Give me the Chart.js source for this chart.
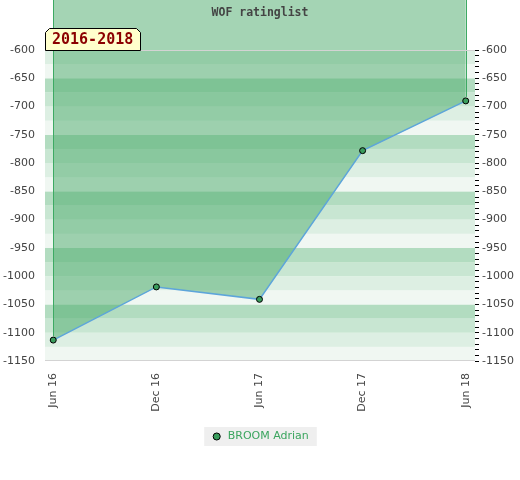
<!DOCTYPE html>
<html>
<head>
<meta charset="utf-8">
<script src="https://cdn.jsdelivr.net/npm/chart.js@4/dist/chart.umd.min.js"></script>
<style>
    body {margin: 0; background: #fff;}
    #chart-area {display: block;}
</style>
</head>
<body>
<canvas id="chart-area" width="520" height="480"></canvas>
<script>
var periodLabels = ['Jun 16', 'Dec 16', 'Jun 17', 'Dec 17', 'Jun 18'];
var ratings = [-1113, -1019, -1041, -778, -690];
var playerName = 'BROOM Adrian';
var chartTitle = 'WOF ratinglist';
var rangeLabel = '2016-2018';
var yMin = -1150;
var yMax = -600;

var stripeColors = ['#b2dcc0', '#c8e6d2', '#ddefe3', '#f0f7f2'];
var fillColor = 'rgba(73, 169, 105, 0.5)';

var backgroundPlugin = {
    id: 'stripes',
    beforeDraw: function (chart) {
        var ctx = chart.ctx;
        var legend = chart.legend;
        if (legend && legend.legendHitBoxes && legend.legendHitBoxes.length) {
            var box = legend.legendHitBoxes[0];
            ctx.save();
            ctx.fillStyle = '#efefef';
            ctx.fillRect(box.left - 7, box.top - 4, box.width + 15, box.height + 8);
            ctx.restore();
        }
    },
    beforeDatasetsDraw: function (chart) {
        var ctx = chart.ctx;
        var area = chart.chartArea;
        var y = chart.scales.y;
        ctx.save();
        for (var v = yMin; v < yMax; v += 25) {
            var idx = ((v - yMin) / 25) % 4;
            var top = y.getPixelForValue(v + 25);
            var bottom = y.getPixelForValue(v);
            ctx.fillStyle = stripeColors[3 - idx];
            ctx.fillRect(area.left, top, area.right - area.left, bottom - top);
        }
        ctx.restore();
    },
    afterDatasetsDraw: function (chart) {
        var ctx = chart.ctx;
        var area = chart.chartArea;
        var meta = chart.getDatasetMeta(0);
        var first = meta.data[0];
        var last = meta.data[meta.data.length - 1];
        ctx.save();
        // fill band above the plot
        ctx.fillStyle = fillColor;
        ctx.fillRect(first.x, 0, last.x - first.x, area.top);
        // side edges of the filled region
        ctx.strokeStyle = '#3daa63';
        ctx.lineWidth = 1;
        ctx.beginPath();
        ctx.moveTo(Math.round(first.x) + 0.5, 0);
        ctx.lineTo(Math.round(first.x) + 0.5, first.y - 4);
        ctx.moveTo(Math.round(last.x) + 0.5, 0);
        ctx.lineTo(Math.round(last.x) + 0.5, last.y - 4);
        ctx.stroke();
        // top and bottom borders
        ctx.strokeStyle = '#d3d3d3';
        ctx.beginPath();
        ctx.moveTo(area.left, Math.round(area.top) + 0.5);
        ctx.lineTo(area.right, Math.round(area.top) + 0.5);
        ctx.moveTo(area.left, Math.round(area.bottom) - 0.5);
        ctx.lineTo(area.right, Math.round(area.bottom) - 0.5);
        ctx.stroke();
        ctx.restore();
    },
    afterDraw: function (chart) {
        var ctx = chart.ctx;
        var area = chart.chartArea;
        ctx.save();
        ctx.fillStyle = '#444';
        ctx.font = 'bold 11.5px "DejaVu Sans Mono"';
        ctx.textAlign = 'center';
        ctx.textBaseline = 'middle';
        ctx.fillText(chartTitle, (area.left + area.right) / 2, 13);
        // period tag
        var x0 = area.left, x1 = area.left + 95, y0 = 28, y1 = area.top, c = 4;
        ctx.beginPath();
        ctx.moveTo(x0 + 0.5, y1 + 0.5);
        ctx.lineTo(x0 + 0.5, y0 + c + 0.5);
        ctx.lineTo(x0 + c + 0.5, y0 + 0.5);
        ctx.lineTo(x1 - c + 0.5, y0 + 0.5);
        ctx.lineTo(x1 + 0.5, y0 + c + 0.5);
        ctx.lineTo(x1 + 0.5, y1 + 0.5);
        ctx.closePath();
        ctx.fillStyle = '#ffffcc';
        ctx.fill();
        ctx.strokeStyle = '#000';
        ctx.lineWidth = 1;
        ctx.stroke();
        ctx.fillStyle = '#8b0000';
        ctx.font = 'bold 15px "DejaVu Sans Mono"';
        ctx.textAlign = 'left';
        ctx.textBaseline = 'middle';
        ctx.fillText(rangeLabel, x0 + 7, (y0 + y1) / 2 + 1);
        ctx.restore();
    }
};

var points = ratings.map(function (value, i) {
    return {x: i, y: value};
});

var config = {
    type: 'line',
    data: {
        datasets: [{
            label: playerName,
            data: points,
            borderColor: '#5da5da',
            borderWidth: 1.5,
            backgroundColor: fillColor,
            fill: 'end',
            tension: 0,
            pointRadius: 3,
            pointBackgroundColor: '#3a9d5d',
            pointBorderColor: '#000',
            pointBorderWidth: 1,
            yAxisID: 'y'
        }]
    },
    options: {
        responsive: false,
        animation: false,
        layout: {padding: {top: 50, bottom: 28, left: 0, right: 0}},
        scales: {
            x: {
                type: 'linear',
                min: -0.08,
                max: 4.09,
                afterBuildTicks: function (scale) {
                    scale.ticks = periodLabels.map(function (l, i) {
                        return {value: i};
                    });
                },
                afterFit: function (scale) {
                    scale.height = 60;
                },
                grid: {display: false},
                border: {display: false},
                ticks: {
                    autoSkip: false,
                    maxRotation: 90,
                    minRotation: 90,
                    padding: 4,
                    color: '#444',
                    font: {family: 'DejaVu Sans', size: 11},
                    callback: function (value) {
                        return periodLabels[value];
                    }
                }
            },
            y: {
                position: 'left',
                min: yMin,
                max: yMax,
                afterFit: function (scale) {
                    scale.width = 45;
                },
                grid: {display: false, drawTicks: false},
                border: {display: false},
                ticks: {
                    stepSize: 50,
                    padding: 10,
                    color: '#444',
                    font: {family: 'DejaVu Sans', size: 11},
                    callback: function (value) {
                        return String(value);
                    }
                }
            },
            y2: {
                position: 'right',
                min: yMin,
                max: yMax,
                afterFit: function (scale) {
                    scale.width = 45;
                },
                grid: {
                    drawOnChartArea: false,
                    drawTicks: true,
                    tickLength: 4,
                    tickColor: '#000'
                },
                border: {display: false},
                ticks: {
                    stepSize: 10,
                    maxTicksLimit: 100,
                    autoSkip: false,
                    padding: 3,
                    color: '#444',
                    font: {family: 'DejaVu Sans', size: 11},
                    callback: function (value) {
                        return value % 50 === 0 ? String(value) : '';
                    }
                }
            }
        },
        plugins: {
            legend: {
                position: 'bottom',
                labels: {
                    usePointStyle: true,
                    pointStyle: 'circle',
                    boxWidth: 11,
                    boxHeight: 5,
                    padding: 10,
                    color: '#3ba55f',
                    font: {family: 'DejaVu Sans', size: 11}
                }
            },
            tooltip: {enabled: false},
            title: {display: false}
        }
    },
    plugins: [backgroundPlugin]
};

var ctx = document.getElementById('chart-area').getContext('2d');
var myChart = new Chart(ctx, config);
</script>
</body>
</html>
